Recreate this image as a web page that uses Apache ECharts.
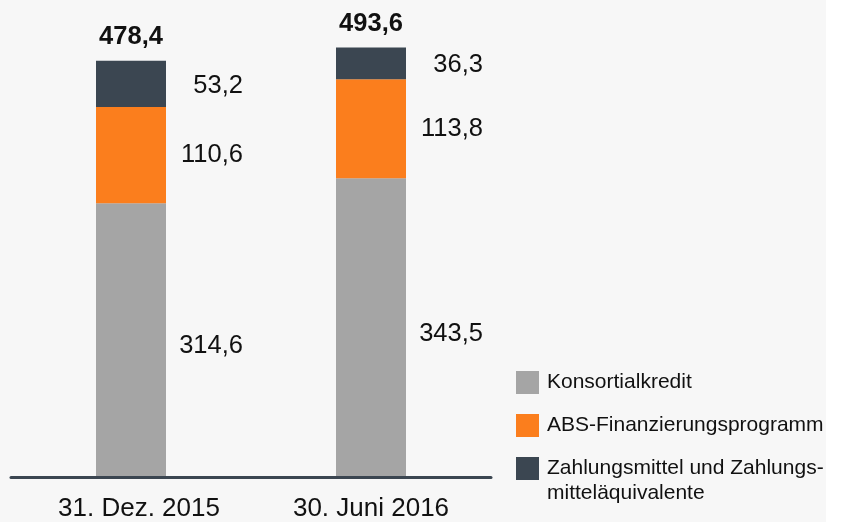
<!DOCTYPE html>
<html>
<head>
<meta charset="utf-8">
<script src="https://cdn.jsdelivr.net/npm/echarts@6/dist/echarts.min.js"></script>
<style>
  html, body { margin: 0; padding: 0; background: #fff; }
  #chart { width: 844px; height: 522px; }
</style>
</head>
<body>
<div id="chart"></div>
<script>
  // Werte in Mio. EUR
  const categories = ['31. Dez. 2015', '30. Juni 2016'];
  const konsortialkredit = [314.6, 343.5];
  const absProgramm = [110.6, 113.8];
  const zahlungsmittel = [53.2, 36.3];
  const totals = [478.4, 493.6];

  const names = ['Konsortialkredit', 'ABS-Finanzierungsprogramm', 'Zahlungsmittel und Zahlungs-\nmitteläquivalente'];
  const colors = ['#a5a5a5', '#fb7e1d', '#3b4651'];

  const fmt = v => v.toFixed(1).replace('.', ',');
  const font = 'Liberation Sans, Arial, sans-serif';

  const segLabel = (dy) => ({
    show: true,
    position: 'right',
    distance: 77,
    align: 'right',
    offset: [0, dy],
    fontSize: 25.5,
    fontFamily: font,
    color: '#111',
    formatter: p => fmt(p.value)
  });

  const legendBase = {
    orient: 'vertical',
    left: 516,
    padding: 0,
    icon: 'rect',
    itemWidth: 23,
    itemHeight: 23,
    selectedMode: false,
    textStyle: { fontSize: 21, fontFamily: font, color: '#111', lineHeight: 25, padding: [0, 0, 0, 3] }
  };

  let chart = echarts.init(document.getElementById('chart'));
  chart.setOption({
    animation: false,
    graphic: [{
      type: 'rect', left: 0, top: 0, z: -10,
      shape: { width: 826, height: 522 },
      style: { fill: '#f7f7f7' }
    }],
    legend: [
      Object.assign({}, legendBase, { top: 370, data: [names[0]] }),
      Object.assign({}, legendBase, { top: 413, data: [names[1]] }),
      Object.assign({}, legendBase, { top: 431, data: [names[2]], formatter: n => '\n' + n })
    ],
    grid: { left: 11, width: 480, top: 42, bottom: 522 - 477.5 },
    xAxis: {
      type: 'category',
      z: 3,
      data: categories.map((c, i) => i === 0 ? { value: c, textStyle: { padding: [0, 0, 0, 16] } } : c),
      axisLine: { lineStyle: { color: '#3b4651', width: 3 } },
      axisTick: { show: false },
      axisLabel: { fontSize: 26, fontFamily: font, color: '#111', margin: 19 }
    },
    yAxis: { type: 'value', min: 0, max: 500, show: false, splitLine: { show: false } },
    series: [
      { name: names[0], type: 'bar', stack: 's', barWidth: 70, data: konsortialkredit,
        itemStyle: { color: colors[0] }, label: segLabel(6) },
      { name: names[1], type: 'bar', stack: 's', barWidth: 70, data: absProgramm,
        itemStyle: { color: colors[1] }, label: segLabel(0) },
      { name: names[2], type: 'bar', stack: 's', barWidth: 70, data: zahlungsmittel,
        itemStyle: { color: colors[2] }, label: segLabel(2) },
      { name: 'Summe', type: 'bar', stack: 's', barWidth: 70, data: totals.map(() => 0),
        itemStyle: { color: 'transparent' },
        label: { show: true, position: 'top', distance: 11, fontSize: 25.5, fontWeight: 'bold',
          fontFamily: font, color: '#111', formatter: p => fmt(totals[p.dataIndex]) } }
    ]
  });
</script>
</body>
</html>
